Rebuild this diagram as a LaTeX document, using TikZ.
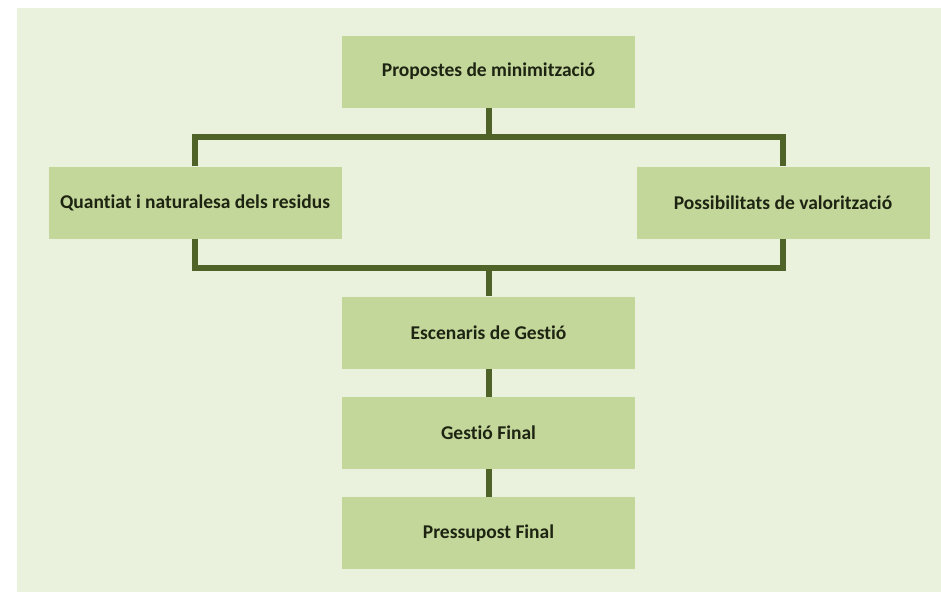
\documentclass[tikz,border=0pt]{standalone}
\usepackage{fontspec}
\setmainfont{Carlito}[Ligatures={NoCommon,NoContextual}]
\usepackage{tikz}
\usetikzlibrary{positioning}
\definecolor{paper}{HTML}{EAF1DD}
\definecolor{leaf}{HTML}{C4D79B}
\definecolor{stem}{HTML}{4F6228}
\definecolor{ink}{HTML}{1E2412}
\tikzset{
  box/.style={rectangle, fill=leaf, draw=none, align=center, text=ink,
              font=\fontsize{19.5}{22}\selectfont\bfseries,
              minimum width=293pt, minimum height=72pt, inner sep=0pt},
  link/.style={draw=stem, line width=6pt}
}

\begin{document}
\begin{tikzpicture}[x=1pt, y=-1pt, node distance=28pt]
  \useasboundingbox (0,0) rectangle (941,592);
  \fill[paper] (17,8) rectangle (941,592);
  \node[box] (prop) at (488.5,71.5) {Propostes de minimització};
  \node[box] (quant) at (195,202.5) {Quantiat i naturalesa dels residus};
  \node[box] (possib) at (783,202.5) {Possibilitats de valorització};
  \node[box] (esc) at (488.5,332.5) {Escenaris de Gestió};
  \node[box, below=of esc] (gest) {Gestió Final};
  \node[box, below=of gest] (press) {Pressupost Final};
  \coordinate (topbar) at (488.5,137);
  \coordinate (botbar) at (488.5,268);
  % branches round the two side boxes
  \draw[link] (quant.north) |- (topbar) -| (possib.north);
  \draw[link] (quant.south) |- (botbar) -| (possib.south);
  \foreach \a/\b in {prop/topbar,botbar/esc,esc/gest,gest/press} \draw[link] (\a)--(\b);
\end{tikzpicture}
\end{document}
